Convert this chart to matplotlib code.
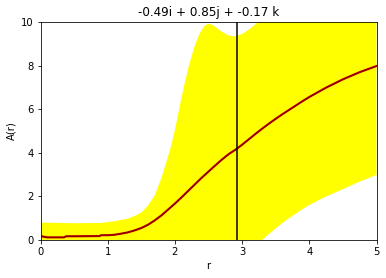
import matplotlib
matplotlib.use("Agg")
import matplotlib.pyplot as plt

# mean curve
line_r = [0.0, 0.05, 0.1, 0.35, 0.38, 0.5, 0.88, 0.9, 1.0, 1.1, 1.2, 1.3, 1.4, 1.5, 1.6,
          1.7, 1.8, 1.9, 2.0, 2.1, 2.2, 2.3, 2.4, 2.5, 2.6, 2.7, 2.8, 2.9, 3.0, 3.1,
          3.2, 3.3, 3.4, 3.5, 3.6, 3.7, 3.8, 3.9, 4.0, 4.25, 4.5, 4.75, 5.0]
mean = [0.18, 0.15, 0.12, 0.12, 0.17, 0.17, 0.18, 0.22, 0.22, 0.24, 0.29, 0.35, 0.44, 0.55, 0.70,
        0.90, 1.13, 1.40, 1.67, 1.96, 2.26, 2.56, 2.86, 3.14, 3.42, 3.69, 3.94, 4.14, 4.37, 4.62,
        4.87, 5.11, 5.34, 5.56, 5.77, 5.97, 6.17, 6.37, 6.56, 6.99, 7.37, 7.70, 7.98]

# uncertainty band
band_r = [0.0, 0.5, 0.9, 1.0, 1.1, 1.2, 1.3, 1.4, 1.5, 1.6, 1.7, 1.8, 1.9, 1.95, 2.0,
          2.05, 2.1, 2.15, 2.2, 2.25, 2.3, 2.35, 2.4, 2.45, 2.5, 2.55, 2.6, 2.7, 2.8, 2.9,
          3.0, 3.1, 3.2, 3.3, 3.4, 3.5, 3.6, 3.7, 3.8, 3.9, 4.0, 4.25, 4.5, 4.75, 5.0]
upper = [0.80, 0.77, 0.78, 0.82, 0.86, 0.92, 0.98, 1.10, 1.26, 1.58, 2.05, 2.85, 3.85, 4.40, 5.05,
         5.80, 6.55, 7.25, 7.90, 8.45, 8.95, 9.35, 9.65, 9.85, 9.92, 9.88, 9.78, 9.55, 9.38, 9.34,
         9.45, 9.65, 9.90, 10.15, 10.40, 10.63, 10.85, 11.04, 11.22, 11.40, 11.58, 12.00, 12.38, 12.70, 12.98]
lower = [-0.44, -0.43, -0.38, -0.38, -0.38, -0.34, -0.28, -0.22, -0.16, -0.18, -0.25, -0.59, -1.05, -1.35, -1.71,
         -2.10, -2.60, -3.00, -3.40, -3.65, -3.85, -3.95, -3.95, -3.80, -3.60, -3.30, -2.95, -2.17, -1.50, -1.08,
         -0.75, -0.45, -0.20, 0.00, 0.28, 0.53, 0.78, 1.00, 1.21, 1.42, 1.61, 2.00, 2.33, 2.68, 2.98]

marker_r = 2.92
title = "-0.49i + 0.85j + -0.17 k"

fig = plt.figure(figsize=(386 / 72, 278 / 72), dpi=72)
ax = fig.add_axes([40.5 / 386, 38 / 278, 336 / 386, 218 / 278])

ax.fill_between(band_r, lower, upper, color="yellow", linewidth=0)
ax.plot(line_r, mean, color="#c80000", linewidth=2.1)
ax.plot(line_r, mean, color="darkred", linewidth=1.2)
ax.axvline(marker_r, color="black", linewidth=1.5)

ax.set_xlim(0, 5)
ax.set_ylim(0, 10)
ax.set_xlabel("r")
ax.set_ylabel("A(r)")
ax.set_title(title)

fig.savefig("out.png", dpi=72)
